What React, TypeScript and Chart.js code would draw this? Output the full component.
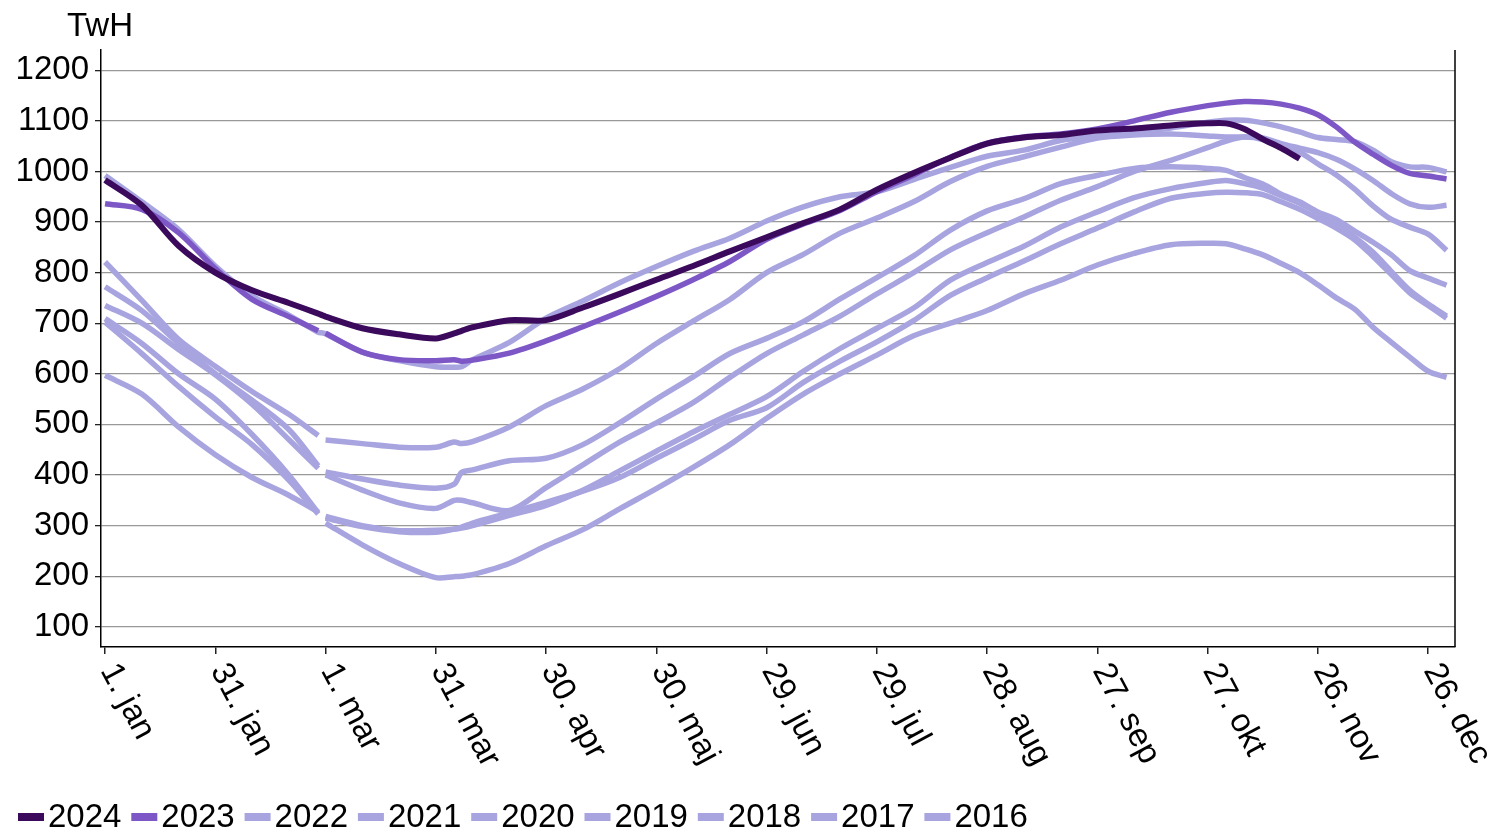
import React, { useEffect, useRef } from "react";
import { Chart, registerables } from "chart.js";

Chart.register(...registerables);

const FONT = '"Liberation Sans", Arial, sans-serif';
const FS = 33;

// day-of-year index (leap-year axis, 0 = 1 jan); 59 = 29 feb
const days = [0, 10, 20, 30, 40, 50, 58, 59, 60, 70, 80, 90, 95, 97, 100, 110, 120, 130, 140, 150, 160, 170, 180, 190, 200, 210, 220, 230, 240, 250, 260, 270, 280, 290, 300, 305, 310, 315, 320, 325, 330, 335, 340, 345, 350, 355, 360, 365];

const y2024 = [983, 933, 853, 800, 765, 740, 719, 716, 713, 690, 678, 670, 680, 685, 692, 706, 706, 731, 758, 786, 813, 842, 870, 898, 925, 964, 997, 1027, 1055, 1067, 1072, 1081, 1085, 1091, 1095, 1095, 1084, 1064, 1046, 1025, null, null, null, null, null, null, null, null];
const y2023 = [936, 925, 879, 808, 747, 713, 685, null, 680, 643, 628, 626, 628, 625, 627, 641, 665, 693, 722, 753, 786, 822, 866, 896, 923, 960, 993, 1028, 1056, 1068, 1074, 1084, 1100, 1117, 1130, 1135, 1138, 1137, 1133, 1125, 1112, 1088, 1058, 1034, 1012, 996, 991, 985];
const y2022 = [821, 745, 668, 615, 565, 520, 478, null, 469, 462, 455, 455, 465, 462, 466, 495, 537, 570, 610, 660, 704, 747, 800, 836, 878, 908, 940, 980, 1010, 1029, 1048, 1066, 1072, 1074, 1070, 1068, 1068, 1066, 1055, 1046, 1037, 1024, 1005, 982, 956, 936, 929, 933];
const y2021 = [772, 725, 660, 600, 548, 490, 418, null, 406, 392, 380, 374, 382, 405, 410, 428, 433, 460, 503, 550, 594, 640, 670, 703, 748, 790, 833, 884, 922, 946, 976, 992, 1006, 1009, 1006, 1002, 988, 975, 955, 940, 920, 905, 882, 860, 835, 804, 789, 775];
const y2020 = [992, 940, 885, 813, 754, 716, 682, 681, 679, 643, 626, 614, 613, 614, 628, 662, 710, 744, 780, 812, 842, 868, 902, 930, 950, 960, 984, 1008, 1030, 1042, 1061, 1070, 1077, 1086, 1097, 1101, 1101, 1096, 1088, 1078, 1067, 1063, 1059, 1042, 1019, 1009, 1008, 999];
const y2019 = [735, 700, 648, 598, 540, 470, 413, null, 400, 370, 345, 334, 350, 350, 345, 330, 375, 420, 465, 503, 543, 593, 640, 677, 714, 758, 800, 845, 879, 910, 943, 970, 1000, 1022, 1047, 1060, 1068, 1063, 1048, 1038, 1015, 993, 965, 932, 905, 890, 876, 844];
const y2018 = [709, 660, 600, 550, 480, 400, 325, null, 318, 300, 290, 291, 293, 295, 300, 320, 340, 370, 408, 447, 485, 520, 555, 605, 650, 690, 730, 785, 820, 852, 890, 920, 948, 966, 978, 982, 976, 967, 952, 937, 918, 895, 870, 840, 802, 765, 738, 714];
const y2017 = [702, 640, 575, 515, 460, 390, 323, null, 315, 298, 288, 287, 293, 297, 305, 325, 346, 368, 395, 433, 470, 508, 533, 583, 625, 663, 705, 755, 790, 823, 857, 888, 920, 947, 957, 959, 958, 954, 940, 925, 907, 888, 865, 832, 796, 760, 735, 710];
const y2016 = [597, 560, 495, 440, 395, 360, 327, null, 305, 262, 225, 197, 199, 200, 203, 225, 260, 292, 333, 373, 415, 460, 512, 560, 600, 637, 675, 700, 725, 758, 785, 815, 838, 855, 858, 857, 847, 835, 818, 800, 776, 750, 728, 692, 662, 633, 605, 593];

const seriesLabels = ["2024", "2023", "2022", "2021", "2020", "2019", "2018", "2017", "2016"];
const seriesValues = [y2024, y2023, y2022, y2021, y2020, y2019, y2018, y2017, y2016];

const DARK = "#3b0a5d";
const MID = "#7e57c6";
const LIGHT = "#a8a4df";
const seriesColors = [DARK, MID, LIGHT, LIGHT, LIGHT, LIGHT, LIGHT, LIGHT, LIGHT];

const xTickDays = [0, 30, 60, 90, 120, 150, 180, 210, 240, 270, 300, 330, 360];
const xTickLabels = ["1. jan", "31. jan", "1. mar", "31. mar", "30. apr", "30. maj", "29. jun", "29. jul", "28. aug", "27. sep", "27. okt", "26. nov", "26. dec"];
const yTicks = [100, 200, 300, 400, 500, 600, 700, 800, 900, 1000, 1100, 1200];
const unitLabel = "TwH";

const overlayPlugin = {
  id: "overlay",
  afterDraw(chart: any) {
    const ctx = chart.ctx;
    const { top, bottom, right } = chart.chartArea;
    ctx.save();
    ctx.strokeStyle = "#000";
    ctx.lineWidth = 1.5;
    ctx.beginPath();
    ctx.moveTo(right, top);
    ctx.lineTo(right, bottom);
    ctx.stroke();

    ctx.fillStyle = "#000";
    ctx.font = `${FS}px ${FONT}`;
    ctx.textAlign = "left";
    ctx.textBaseline = "alphabetic";
    ctx.fillText(unitLabel, 67, 36);

    const xs = chart.scales.x;
    xTickDays.forEach((d, i) => {
      const px = xs.getPixelForValue(d);
      ctx.save();
      ctx.translate(px + 3, bottom + 19);
      ctx.rotate((62 * Math.PI) / 180);
      ctx.textAlign = "left";
      ctx.textBaseline = "middle";
      ctx.fillText(xTickLabels[i], 0, 0);
      ctx.restore();
    });

    const ly = 817;
    seriesLabels.forEach((lab, i) => {
      const tx = 48 + i * 113.3;
      ctx.fillStyle = seriesColors[i];
      ctx.fillRect(tx - 30, ly - 4, 26, 8);
      ctx.fillStyle = "#000";
      ctx.textBaseline = "middle";
      ctx.fillText(lab, tx, ly + 1);
    });
    ctx.restore();
  },
};

export default function App() {
  const ref = useRef<HTMLCanvasElement | null>(null);
  useEffect(() => {
    if (!ref.current) return;
    const datasets = seriesLabels.map((lab, i) => ({
      label: lab,
      data: days.map((d, j) => ({ x: d, y: seriesValues[i][j] })),
      borderColor: seriesColors[i],
      backgroundColor: seriesColors[i],
      borderWidth: i === 0 ? 6 : 5.5,
      pointRadius: 0,
      tension: 0.3,
      borderJoinStyle: "round" as const,
      spanGaps: false,
      fill: false,
    }));
    const chart = new Chart(ref.current, {
      type: "line",
      data: { datasets },
      options: {
        responsive: false,
        devicePixelRatio: 1,
        animation: false,
        layout: { padding: { top: 50, right: 34, left: 0, bottom: 0 } },
        plugins: { legend: { display: false }, tooltip: { enabled: false } },
        scales: {
          x: {
            type: "linear",
            min: -1.1,
            max: 367.3,
            afterBuildTicks: (s: any) => {
              s.ticks = xTickDays.map((v) => ({ value: v }));
            },
            afterFit: (s: any) => {
              s.height = 185;
            },
            ticks: { display: false },
            grid: { drawOnChartArea: false, drawTicks: true, tickLength: 7, tickColor: "#222", lineWidth: 1.5 },
            border: { display: true, color: "#000", width: 1.5 },
          },
          y: {
            type: "linear",
            min: 60,
            max: 1240,
            afterBuildTicks: (s: any) => {
              s.ticks = yTicks.map((v) => ({ value: v }));
            },
            afterFit: (s: any) => {
              s.width = 101;
            },
            ticks: {
              color: "#000",
              font: { family: FONT, size: FS },
              padding: 6,
              callback: (v: any) => String(v),
            },
            grid: { color: "#999999", lineWidth: 1.3, drawTicks: true, tickLength: 6, tickColor: "#222" },
            border: { display: true, color: "#000", width: 1.5 },
          },
        },
      },
      plugins: [overlayPlugin],
    });
    return () => chart.destroy();
  }, []);
  return (
    <div style={{ position: "fixed", left: 0, top: 0, width: 1489, height: 832, background: "#fff" }}>
      <canvas ref={ref} width={1489} height={832} style={{ display: "block", width: 1489, height: 832 }} />
    </div>
  );
}
